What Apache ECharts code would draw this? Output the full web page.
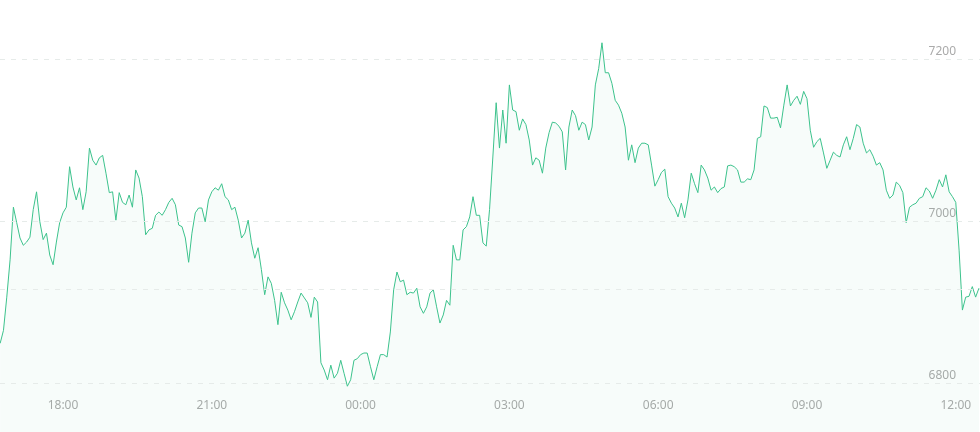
<!DOCTYPE html>
<html><head><meta charset="utf-8">
<script src="https://cdn.jsdelivr.net/npm/echarts@6/dist/echarts.min.js"></script>
<style>html,body{margin:0;padding:0;background:#fff}#c{width:980px;height:432px}</style>
</head><body><div id="c"></div>
<script>
// time in minutes from 00:00 of first day, one sample every 4 minutes starting 16:44
const startMinute = 1004;
const stepMinutes = 4;
const prices = [
6849,6865,6906,6952,7017,6998,6979,6970,6974,6980,
7014,7036,6999,6977,6985,6958,6946,6974,6998,7010,
7017,7067,7042,7026,7041,7014,7036,7090,7075,7069,
7078,7081,7059,7035,7036,7001,7035,7023,7020,7032,
7017,7063,7053,7030,6983,6989,6991,7007,7011,7007,
7014,7023,7028,7020,6995,6993,6979,6949,6985,7010,
7016,7016,6999,7026,7036,7041,7038,7046,7030,7026,
7014,7017,7001,6979,6985,7001,6973,6954,6967,6940,
6909,6931,6923,6902,6872,6912,6899,6890,6878,6888,
6900,6911,6905,6899,6881,6906,6900,6825,6816,6804,
6822,6806,6812,6828,6812,6796,6804,6828,6830,6835,
6837,6837,6820,6804,6820,6835,6835,6832,6863,6915,
6937,6925,6927,6909,6912,6911,6917,6894,6886,6894,
6911,6915,6894,6874,6884,6902,6896,6970,6952,6952,
6989,6993,7005,7030,7007,7007,6973,6969,7014,7079,
7146,7090,7137,7096,7168,7137,7135,7112,7126,7119,
7100,7069,7078,7075,7059,7090,7109,7122,7121,7117,
7110,7063,7116,7137,7130,7112,7122,7119,7100,7116,
7168,7188,7220,7183,7183,7170,7149,7143,7133,7116,
7075,7094,7072,7090,7096,7096,7094,7069,7043,7051,
7060,7064,7030,7022,7016,7005,7022,7004,7026,7059,
7046,7035,7069,7063,7053,7038,7042,7035,7040,7042,
7068,7069,7067,7063,7048,7048,7052,7051,7063,7102,
7104,7142,7140,7127,7127,7128,7115,7143,7168,7142,
7149,7154,7144,7160,7151,7112,7091,7098,7102,7084,
7065,7075,7085,7081,7079,7094,7104,7088,7102,7119,
7116,7096,7084,7088,7080,7069,7072,7063,7038,7028,
7032,7048,7044,7035,6998,7017,7020,7022,7028,7030,
7041,7037,7028,7038,7051,7042,7057,7036,7030,7023,
6964,6890,6906,6907,6919,6906,6917
];
const xTickMinutes = [1080, 1260, 1440, 1620, 1800, 1980, 2160];
const yTickValues = [6800, 7000, 7200];
const refLineValue = 6916;

const times = prices.map((_, i) => startMinute + i * stepMinutes);
const seriesData = prices.map((p, i) => [times[i], p]);

const chart = echarts.init(document.getElementById('c'), null, {renderer: 'canvas'});
const gridLineStyle = {color: '#e6ebe9', type: [5, 6], width: 1};
chart.setOption({
  animation: false,
  grid: {left: 0, right: 0, top: 0, bottom: 0},
  xAxis: {
    type: 'value',
    min: 1003.8, max: 2189.3,
    axisLine: {show: false}, axisTick: {show: false}, splitLine: {show: false},
    axisLabel: {
      inside: true, margin: 20, color: '#aaaaaa', fontSize: 12,
      fontFamily: 'Noto Sans, sans-serif',
      customValues: xTickMinutes,
      formatter: v => String(Math.floor(v / 60) % 24).padStart(2, '0') + ':' + String(Math.round(v % 60)).padStart(2, '0')
    }
  },
  yAxis: {
    type: 'value', position: 'right',
    min: 6739.5, max: 7272.8,
    axisLine: {show: false}, axisTick: {show: false}, splitLine: {show: false},
    axisLabel: {
      inside: true, margin: 24, color: '#aaaaaa', fontSize: 12,
      fontFamily: 'Noto Sans, sans-serif',
      verticalAlign: 'bottom', lineHeight: 14,
      customValues: yTickValues,
      formatter: v => String(v)
    }
  },
  series: [{
    type: 'line',
    data: seriesData,
    showSymbol: false,
    symbol: 'none',
    lineStyle: {color: '#3cc28c', width: 1},
    areaStyle: {color: 'rgba(63,196,143,0.06)', origin: 'start'},
    markLine: {
      silent: true, symbol: 'none', label: {show: false},
      lineStyle: gridLineStyle,
      data: yTickValues.concat([refLineValue]).map(v => ({yAxis: v}))
    }
  }]
});
</script></body></html>
